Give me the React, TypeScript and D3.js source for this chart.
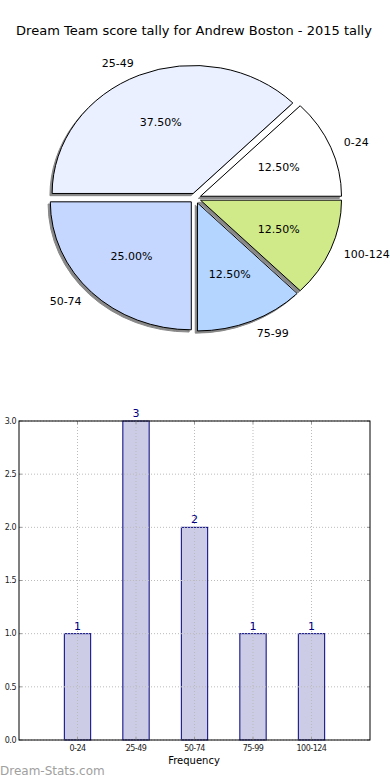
import * as d3 from "d3";
import React, { RefObject, useEffect, useRef } from "react";

const categories = ["0-24", "25-49", "50-74", "75-99", "100-124"];
const counts = [1, 3, 2, 1, 1];
const sliceColors = ["#ffffff", "#eaf0ff", "#c5d7ff", "#b3d5ff", "#d0ea8a"];
const yTicks = [0, 0.5, 1, 1.5, 2, 2.5, 3];
const title = "Dream Team score tally for Andrew Boston - 2015 tally";

const W = 390;
const H = 780;
const FONT = "DejaVu Sans, sans-serif";

const App = () => {
  const d3Ref: RefObject<HTMLDivElement> = useRef(null);

  const drawChart = () => {
    d3.select(d3Ref.current).selectAll("*").remove();
    const svg = d3
      .select(d3Ref.current)
      .append("svg")
      .attr("width", W)
      .attr("height", H)
      .style("display", "block");

    svg.append("rect").attr("width", W).attr("height", H).attr("fill", "#fff");

    svg
      .append("text")
      .attr("x", 194)
      .attr("y", 35)
      .attr("text-anchor", "middle")
      .attr("font-family", FONT)
      .attr("font-size", 13)
      .attr("fill", "#000")
      .text(title);

    // ---- pie (elliptical, exploded, with shadow) ----
    const cx = 195.3;
    const cy = 198.2;
    const rx = 141;
    const ry = 128;
    const explode = 0.04;
    const total = d3.sum(counts);
    const pie = d3.pie<number>().sort(null).value((d) => d);
    const arcs = pie(counts);
    const arc = d3.arc<any>().innerRadius(0).outerRadius(rx);

    const slices = arcs.map((a, i) => {
      // matplotlib: start at east, counter-clockwise
      const a0 = a.startAngle;
      const a1 = a.endAngle;
      const mid = (a0 + a1) / 2;
      const ox = cx + explode * rx * Math.cos(mid);
      const oy = cy - explode * ry * Math.sin(mid);
      return { i, a0, a1, mid, ox, oy };
    });

    const pieG = svg.append("g");
    const drawSlice = (s: any, dx: number, dy: number, fill: string, stroke: string) => {
      pieG
        .append("path")
        .attr("transform", `translate(${s.ox + dx},${s.oy + dy}) scale(1,${ry / rx})`)
        .attr("d", arc({ startAngle: Math.PI / 2 - s.a1, endAngle: Math.PI / 2 - s.a0 }))
        .attr("fill", fill)
        .attr("stroke", stroke)
        .attr("stroke-width", 1)
        .attr("stroke-linejoin", "round")
        .attr("vector-effect", "non-scaling-stroke");
    };
    slices.forEach((s) => drawSlice(s, -2.2, 2.2, "#888", "#888"));
    slices.forEach((s) => drawSlice(s, 0, 0, sliceColors[s.i], "#000"));

    slices.forEach((s) => {
      const c = Math.cos(s.mid);
      const sn = Math.sin(s.mid);
      const lx = s.ox + 1.1 * rx * c;
      const ly = s.oy - 1.1 * ry * sn;
      pieG
        .append("text")
        .attr("x", lx)
        .attr("y", ly)
        .attr("dy", "0.35em")
        .attr("text-anchor", lx < cx ? "end" : "start")
        .attr("font-family", FONT)
        .attr("font-size", 11)
        .attr("fill", "#000")
        .text(categories[s.i]);
      const px = s.ox + 0.6 * rx * c;
      const py = s.oy - 0.6 * ry * sn;
      pieG
        .append("text")
        .attr("x", px)
        .attr("y", py)
        .attr("dy", "0.35em")
        .attr("text-anchor", "middle")
        .attr("font-family", FONT)
        .attr("font-size", 11)
        .attr("fill", "#000")
        .text(((counts[s.i] / total) * 100).toFixed(2) + "%");
    });

    // ---- bar chart ----
    const left = 19;
    const right = 370;
    const top = 421;
    const bottom = 740;
    const x = d3.scaleLinear().domain([-1, 5]).range([left, right]);
    const y = d3.scaleLinear().domain([0, 3]).range([bottom, top]);
    const barW = 0.45;
    const g = svg.append("g");

    g.selectAll(".bar")
      .data(counts)
      .enter()
      .append("rect")
      .attr("class", "bar")
      .attr("x", (d, i) => x(i - barW / 2))
      .attr("y", (d) => y(d))
      .attr("width", x(barW) - x(0))
      .attr("height", (d) => bottom - y(d))
      .attr("fill", "#cccce6")
      .attr("stroke", "#000080")
      .attr("stroke-width", 1);

    // grid
    const gridColor = "#bbbbbb";
    yTicks.forEach((t) => {
      g.append("line")
        .attr("x1", left)
        .attr("x2", right)
        .attr("y1", y(t))
        .attr("y2", y(t))
        .attr("stroke", gridColor)
        .attr("stroke-width", 1)
        .attr("stroke-dasharray", "1,2");
    });
    categories.forEach((c, i) => {
      g.append("line")
        .attr("x1", x(i))
        .attr("x2", x(i))
        .attr("y1", top)
        .attr("y2", bottom)
        .attr("stroke", gridColor)
        .attr("stroke-width", 1)
        .attr("stroke-dasharray", "1,2");
      // inward ticks
      g.append("line").attr("x1", x(i)).attr("x2", x(i)).attr("y1", bottom).attr("y2", bottom - 3).attr("stroke", "#999");
      g.append("line").attr("x1", x(i)).attr("x2", x(i)).attr("y1", top).attr("y2", top + 3).attr("stroke", "#999");
    });
    yTicks.forEach((t) => {
      g.append("line").attr("x1", left).attr("x2", left + 3).attr("y1", y(t)).attr("y2", y(t)).attr("stroke", "#999");
      g.append("line").attr("x1", right).attr("x2", right - 3).attr("y1", y(t)).attr("y2", y(t)).attr("stroke", "#999");
    });

    g.append("rect")
      .attr("x", left)
      .attr("y", top)
      .attr("width", right - left)
      .attr("height", bottom - top)
      .attr("fill", "none")
      .attr("stroke", "#000")
      .attr("stroke-width", 1);

    g.selectAll(".val")
      .data(counts)
      .enter()
      .append("text")
      .attr("class", "val")
      .attr("x", (d, i) => x(i))
      .attr("y", (d) => y(d) - 4)
      .attr("text-anchor", "middle")
      .attr("font-family", FONT)
      .attr("font-size", 11)
      .attr("fill", "#000080")
      .text((d) => String(d));

    yTicks.forEach((t) => {
      g.append("text")
        .attr("x", left - 3)
        .attr("y", y(t))
        .attr("dy", "0.35em")
        .attr("text-anchor", "end")
        .attr("font-family", FONT)
        .attr("font-size", 8)
        .attr("letter-spacing", "-0.5")
        .attr("fill", "#222")
        .text(t.toFixed(1));
    });
    categories.forEach((c, i) => {
      g.append("text")
        .attr("x", x(i))
        .attr("y", bottom + 11)
        .attr("text-anchor", "middle")
        .attr("font-family", FONT)
        .attr("font-size", 8)
        .attr("letter-spacing", "-0.5")
        .attr("fill", "#222")
        .text(c);
    });

    g.append("text")
      .attr("x", 194)
      .attr("y", 764)
      .attr("text-anchor", "middle")
      .attr("font-family", FONT)
      .attr("font-size", 10)
      .attr("fill", "#000")
      .text("Frequency");

    svg
      .append("text")
      .attr("x", 0)
      .attr("y", 775)
      .attr("font-family", FONT)
      .attr("font-size", 12)
      .attr("fill", "#a0a0a0")
      .text("Dream-Stats.com");
  };

  useEffect(() => {
    drawChart();
  }, [d3Ref]);

  return (
    <div ref={d3Ref} style={{ position: "absolute", left: 0, top: 0 }} />
  );
};

export default App;
